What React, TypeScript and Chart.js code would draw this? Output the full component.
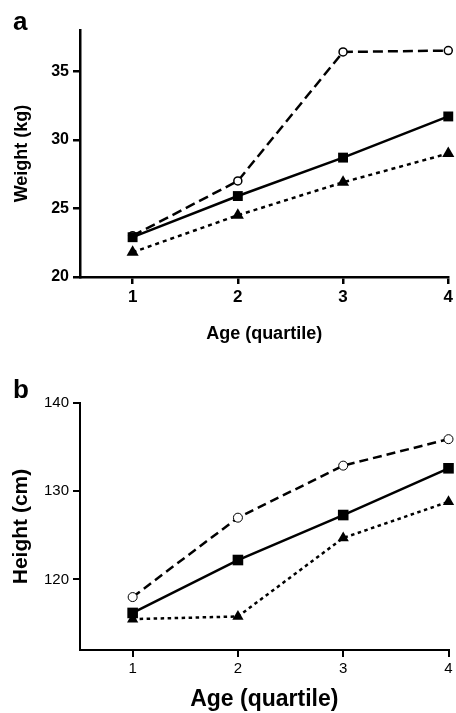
import React, { useEffect, useRef } from "react";
import { Chart, registerables } from "chart.js";

Chart.register(...registerables);

// ---------- data ----------
const quartiles = [1, 2, 3, 4];

const weightSolid = [22.9, 25.9, 28.7, 31.7];
const weightDashed = [23.0, 27.0, 36.4, 36.5];
const weightDotted = [21.8, 24.5, 26.9, 29.0];
const weightTicks = [20, 25, 30, 35];

const heightSolid = [116.2, 122.2, 127.3, 132.6];
const heightDashed = [118.0, 127.0, 132.9, 135.9];
const heightDotted = [115.5, 115.8, 124.7, 128.8];
const heightTicks = [120, 130, 140];

const FONT = "'Liberation Sans', Arial, Helvetica, sans-serif";

type PanelCfg = {
  solid: number[];
  dashed: number[];
  dotted: number[];
  yTicks: number[];
  yMin: number;
  yMax: number;
  yTitle: string;
  yTitleSize: number;
  yTitlePad: number;
  xTickSize: number;
  yTickSize: number;
  tickWeight: string;
  xTitleSize: number;
  xTitlePad: number;
  height: number;
  padTop: number;
  xHeight: number;
  axisWidth: number;
  lineWidth: number;
  sq: number;
  tri: number;
  circ: number;
  circBorder: number;
  dash: number[];
  dot: number[];
};

function pts(vals: number[]) {
  return quartiles.map((q, i) => ({ x: q, y: vals[i] }));
}

function buildConfig(c: PanelCfg): any {
  return {
    type: "line",
    data: {
      datasets: [
        {
          data: pts(c.solid),
          borderColor: "#000",
          backgroundColor: "#000",
          borderWidth: c.lineWidth,
          pointStyle: "rect",
          pointRadius: c.sq,
          pointBackgroundColor: "#000",
          pointBorderColor: "#000",
          pointBorderWidth: 0,
          clip: false,
        },
        {
          data: pts(c.dotted),
          borderColor: "#000",
          backgroundColor: "#000",
          borderWidth: c.lineWidth,
          borderDash: c.dot,
          pointStyle: "triangle",
          pointRadius: c.tri,
          pointBackgroundColor: "#000",
          pointBorderColor: "#000",
          pointBorderWidth: 0,
          clip: false,
        },
        {
          data: pts(c.dashed),
          borderColor: "#000",
          backgroundColor: "#fff",
          borderWidth: c.lineWidth,
          borderDash: c.dash,
          pointStyle: "circle",
          pointRadius: c.circ,
          pointBackgroundColor: "#fff",
          pointBorderColor: "#000",
          pointBorderWidth: c.circBorder,
          clip: false,
        },
      ],
    },
    options: {
      responsive: false,
      animation: false,
      layout: { padding: { top: c.padTop, right: 6, left: 0, bottom: 0 } },
      plugins: { legend: { display: false }, tooltip: { enabled: false } },
      scales: {
        x: {
          type: "linear",
          min: 0.5,
          max: 4,
          afterBuildTicks: (s: any) => {
            s.ticks = quartiles.map((v) => ({ value: v }));
          },
          afterFit: (s: any) => {
            s.height = c.xHeight;
          },
          border: { display: true, color: "#000", width: c.axisWidth },
          grid: {
            display: true,
            drawOnChartArea: false,
            drawTicks: true,
            tickLength: 7,
            color: "#000",
            lineWidth: c.axisWidth,
          },
          ticks: {
            color: "#000",
            font: { family: FONT, size: c.xTickSize, weight: c.tickWeight },
            padding: 3,
            maxRotation: 0,
          },
          title: {
            display: true,
            text: "Age (quartile)",
            color: "#000",
            font: { family: FONT, size: c.xTitleSize, weight: "bold" },
            padding: { top: 0, bottom: c.xTitlePad },
          },
        },
        y: {
          type: "linear",
          min: c.yMin,
          max: c.yMax,
          afterBuildTicks: (s: any) => {
            s.ticks = c.yTicks.map((v) => ({ value: v }));
          },
          afterFit: (s: any) => {
            s.width = 80;
          },
          border: { display: true, color: "#000", width: c.axisWidth },
          grid: {
            display: true,
            drawOnChartArea: false,
            drawTicks: true,
            tickLength: 7,
            color: "#000",
            lineWidth: c.axisWidth,
          },
          ticks: {
            color: "#000",
            font: { family: FONT, size: c.yTickSize, weight: c.tickWeight },
            padding: 4,
          },
          title: {
            display: true,
            text: c.yTitle,
            color: "#000",
            font: { family: FONT, size: c.yTitleSize, weight: "bold" },
            padding: { top: c.yTitlePad, bottom: 0 },
          },
        },
      },
    },
  };
}

const panelA: PanelCfg = {
  solid: weightSolid,
  dashed: weightDashed,
  dotted: weightDotted,
  yTicks: weightTicks,
  yMin: 20,
  yMax: 38,
  yTitle: "Weight (kg)",
  yTitleSize: 18,
  yTitlePad: 11,
  xTickSize: 17,
  yTickSize: 16,
  tickWeight: "bold",
  xTitleSize: 18,
  xTitlePad: 5,
  height: 350,
  padTop: 30,
  xHeight: 73,
  axisWidth: 2.5,
  lineWidth: 2.5,
  sq: 7,
  tri: 7,
  circ: 4,
  circBorder: 1.5,
  dash: [10, 5],
  dot: [4, 4],
};

const panelB: PanelCfg = {
  solid: heightSolid,
  dashed: heightDashed,
  dotted: heightDotted,
  yTicks: heightTicks,
  yMin: 112,
  yMax: 140,
  yTitle: "Height (cm)",
  yTitleSize: 21,
  yTitlePad: 9,
  xTickSize: 15,
  yTickSize: 15,
  tickWeight: "normal",
  xTitleSize: 23,
  xTitlePad: 0,
  height: 353,
  padTop: 43,
  xHeight: 63,
  axisWidth: 2,
  lineWidth: 2.5,
  sq: 7.5,
  tri: 6.5,
  circ: 4.5,
  circBorder: 1,
  dash: [9, 5],
  dot: [3.5, 3.5],
};

function Panel({ cfg, top }: { cfg: PanelCfg; top: number }) {
  const ref = useRef<HTMLCanvasElement | null>(null);
  useEffect(() => {
    if (!ref.current) return;
    const chart = new Chart(ref.current, buildConfig(cfg));
    return () => chart.destroy();
  }, []);
  return (
    <canvas
      ref={ref}
      width={456}
      height={cfg.height}
      style={{ position: "absolute", left: 0, top, width: 456, height: cfg.height, display: "block" }}
    />
  );
}

export default function App() {
  const label = (t: string, top: number) => (
    <div
      style={{
        position: "absolute",
        left: 13,
        top,
        fontFamily: FONT,
        fontWeight: "bold",
        fontSize: 26,
        lineHeight: "26px",
        color: "#000",
      }}
    >
      {t}
    </div>
  );
  return (
    <div style={{ position: "absolute", left: 0, top: 0, width: 456, height: 713, background: "#fff" }}>
      <Panel cfg={panelA} top={0} />
      <Panel cfg={panelB} top={360} />
      {label("a", 8)}
      {label("b", 376)}
    </div>
  );
}
